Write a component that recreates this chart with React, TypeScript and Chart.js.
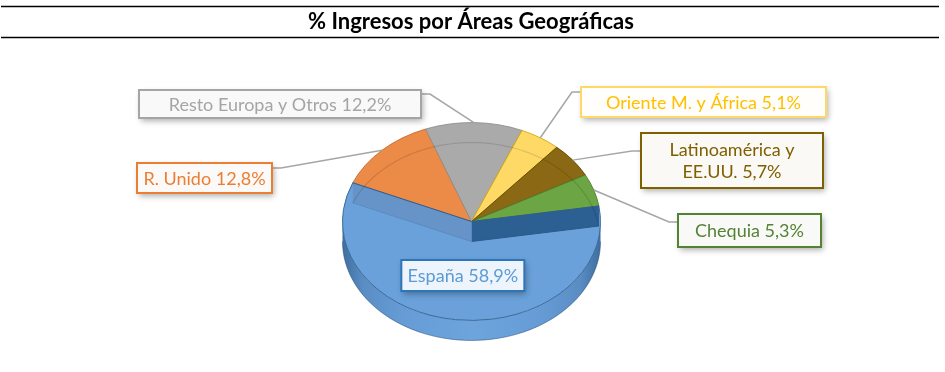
import { useEffect, useRef } from 'react';
import { Chart, registerables } from 'chart.js';
Chart.register(...registerables);

// ---------- data ----------
const titleText = '% Ingresos por Áreas Geográficas';
const categories = ['España', 'R. Unido', 'Resto Europa y Otros', 'Oriente M. y África', 'Latinoamérica y EE.UU.', 'Chequia'];
const values = [58.9, 12.8, 12.2, 5.1, 5.7, 5.3];

// ---------- styles ----------
const sliceColors = ['#6AA1DA', '#EC8A48', '#AAAAAA', '#FFD966', '#8B6914', '#6CA544'];
const sliceBorders = ['#2F5F8F', '#C96A2A', '#8E8E8E', '#D9A800', '#5E4600', '#4E7F2E'];
const labelTextColors = ['#5B9BD5', '#ED7D31', '#A5A5A5', '#FFC000', '#7F6000', '#548235'];
const labelBorderColors = ['#2E75B6', '#ED7D31', '#A5A5A5', '#FFD966', '#7F6000', '#548235'];
const labelFills = ['#EEF4FB', '#FBFAF9', '#F9F9F9', '#FFFEFA', '#FAF9F5', '#F9FAF8'];
// label boxes: [left, top, width, height, leaderAttachDy] ; null = inside slice
const labelBoxes: (number[] | null)[] = [
  null,
  [137, 163, 135, 30, 5],
  [139, 90, 282, 28, 4],
  [581, 87, 245, 30, 5],
  [641, 133, 182, 55, 18],
  [678, 214, 143, 33, 8],
];
const insideBox = [123, 31, 0.55];
const TILT = 0.767;
const DEPTH = 20;
const ROTATION = 81;
const FONT = 'Lato, "Open Sans", sans-serif';

function fmt(v: number) {
  return v.toFixed(1).replace('.', ',') + '%';
}

function frontSegments(a1: number, a2: number): number[][] {
  const out: number[][] = [];
  for (let k = -2; k <= 2; k++) {
    const lo = k * 2 * Math.PI, hi = lo + Math.PI;
    const s = Math.max(a1, lo), e = Math.min(a2, hi);
    if (e > s) out.push([s, e]);
  }
  return out;
}
function backSegments(a1: number, a2: number): number[][] {
  const out: number[][] = [];
  for (let k = -2; k <= 2; k++) {
    const lo = k * 2 * Math.PI + Math.PI, hi = lo + Math.PI;
    const s = Math.max(a1, lo), e = Math.min(a2, hi);
    if (e > s) out.push([s, e]);
  }
  return out;
}

function wrap(ctx: CanvasRenderingContext2D, text: string, maxW: number) {
  const words = text.split(' ');
  const lines: string[] = [];
  let cur = '';
  for (const w of words) {
    const t = cur ? cur + ' ' + w : w;
    if (ctx.measureText(t).width > maxW && cur) {
      lines.push(cur);
      cur = w;
    } else cur = t;
  }
  if (cur) lines.push(cur);
  return lines;
}

const pie3d = {
  id: 'pie3d',
  beforeDraw(chart: any) {
    const ctx = chart.ctx as CanvasRenderingContext2D;
    ctx.save();
    ctx.fillStyle = '#ffffff';
    ctx.fillRect(0, 0, chart.width, chart.height);
    ctx.strokeStyle = '#000000';
    ctx.lineWidth = 1.4;
    ctx.beginPath();
    ctx.moveTo(1, 6.5); ctx.lineTo(939, 6.5);
    ctx.moveTo(1, 37.5); ctx.lineTo(939, 37.5);
    ctx.stroke();
    ctx.fillStyle = '#000000';
    ctx.font = 'bold 22px ' + FONT;
    ctx.textAlign = 'center';
    ctx.textBaseline = 'alphabetic';
    ctx.fillText(titleText, 471, 29);
    ctx.restore();
  },
  beforeDatasetsDraw(chart: any) {
    const ctx = chart.ctx as CanvasRenderingContext2D;
    const arcs = chart.getDatasetMeta(0).data as any[];
    const cx = arcs[0].x, cy = arcs[0].y, R = arcs[0].outerRadius;
    const ex = (a: number) => cx + R * Math.cos(a);
    const ey = (a: number, off = 0) => cy + TILT * R * Math.sin(a) + off;

    // sides
    arcs.forEach((el: any, i: number) => {
      frontSegments(el.startAngle, el.endAngle).forEach(([s, e]) => {
        const n = 60;
        ctx.save();
        ctx.beginPath();
        for (let j = 0; j <= n; j++) {
          const a = s + ((e - s) * j) / n;
          j === 0 ? ctx.moveTo(ex(a), ey(a)) : ctx.lineTo(ex(a), ey(a));
        }
        for (let j = n; j >= 0; j--) {
          const a = s + ((e - s) * j) / n;
          ctx.lineTo(ex(a), ey(a, DEPTH));
        }
        ctx.closePath();
        const g = ctx.createLinearGradient(cx - R, 0, cx + R, 0);
        if (i === 0) {
          g.addColorStop(0, '#3F6E9E');
          g.addColorStop(0.08, '#5A8DC4');
          g.addColorStop(0.25, '#679DD6');
          g.addColorStop(0.5, '#6DA4DC');
          g.addColorStop(0.75, '#679DD6');
          g.addColorStop(0.92, '#5A8DC4');
          g.addColorStop(1, '#3F6E9E');
        } else {
          g.addColorStop(0, sliceBorders[i]);
          g.addColorStop(0.5, sliceColors[i]);
          g.addColorStop(1, sliceBorders[i]);
        }
        ctx.fillStyle = g;
        ctx.fill();
        ctx.beginPath();
        for (let j = 0; j <= n; j++) {
          const a = s + ((e - s) * j) / n;
          j === 0 ? ctx.moveTo(ex(a), ey(a, DEPTH)) : ctx.lineTo(ex(a), ey(a, DEPTH));
        }
        ctx.strokeStyle = 'rgba(40,80,120,0.55)';
        ctx.lineWidth = 1;
        ctx.stroke();
        ctx.restore();
      });
    });

    // top faces
    ctx.save();
    ctx.translate(cx, cy);
    ctx.scale(1, TILT);
    ctx.translate(-cx, -cy);
    arcs.forEach((el: any) => el.draw(ctx));
    ctx.restore();

    // see-through walls of the front slice
    const sp = arcs[0];
    const wall = (a: number, fill: string, line: string) => {
      ctx.save();
      ctx.beginPath();
      ctx.moveTo(cx, cy);
      ctx.lineTo(ex(a), ey(a));
      ctx.lineTo(ex(a), ey(a, DEPTH));
      ctx.lineTo(cx, cy + DEPTH);
      ctx.closePath();
      ctx.fillStyle = fill;
      ctx.fill();
      ctx.beginPath();
      ctx.moveTo(cx, cy + DEPTH);
      ctx.lineTo(ex(a), ey(a, DEPTH));
      ctx.strokeStyle = line;
      ctx.lineWidth = 1;
      ctx.stroke();
      ctx.beginPath();
      ctx.moveTo(cx, cy);
      ctx.lineTo(ex(a), ey(a));
      ctx.strokeStyle = '#2F5F8F';
      ctx.stroke();
      ctx.restore();
    };
    wall(sp.startAngle, '#2C5F92', '#2A5A88');
    wall(sp.endAngle, '#6794C8', '#5B8BC2');

    // faint see-through back bottom edge of the other slices
    arcs.forEach((el: any, i: number) => {
      if (i === 0) return;
      backSegments(el.startAngle, el.endAngle).forEach(([s, e]) => {
        ctx.save();
        ctx.beginPath();
        const n = 40;
        for (let j = 0; j <= n; j++) {
          const a = s + ((e - s) * j) / n;
          j === 0 ? ctx.moveTo(ex(a), ey(a, DEPTH)) : ctx.lineTo(ex(a), ey(a, DEPTH));
        }
        ctx.strokeStyle = 'rgba(0,0,0,0.12)';
        ctx.lineWidth = 1.2;
        ctx.stroke();
        ctx.restore();
      });
    });
    return false;
  },
  afterDraw(chart: any) {
    const ctx = chart.ctx as CanvasRenderingContext2D;
    const arcs = chart.getDatasetMeta(0).data as any[];
    const cx = arcs[0].x, cy = arcs[0].y, R = arcs[0].outerRadius;
    ctx.save();
    ctx.font = '18px ' + FONT;
    arcs.forEach((el: any, i: number) => {
      const mid = (el.startAngle + el.endAngle) / 2;
      const ax = cx + R * Math.cos(mid);
      const ay = cy + TILT * R * Math.sin(mid);
      let bx: number, by: number, bw: number, bh: number;
      const box = labelBoxes[i];
      if (!box) {
        bw = insideBox[0];
        bh = insideBox[1];
        const f = insideBox[2];
        bx = cx + f * R * Math.cos(mid) - bw / 2;
        by = cy + f * TILT * R * Math.sin(mid) - bh / 2;
      } else {
        [bx, by, bw, bh] = box;
        const attachY = by + box[4];
        const right = ax > bx + bw;
        const edgeX = right ? bx + bw : bx;
        const stubX = right ? edgeX + 9 : edgeX - 9;
        ctx.save();
        ctx.strokeStyle = '#A6A6A6';
        ctx.lineWidth = 1.5;
        ctx.beginPath();
        ctx.moveTo(edgeX, attachY);
        ctx.lineTo(stubX, attachY);
        ctx.lineTo(ax, ay);
        ctx.stroke();
        ctx.restore();
      }
      // box
      ctx.save();
      ctx.shadowColor = 'rgba(0,0,0,0.32)';
      ctx.shadowBlur = 6;
      ctx.shadowOffsetX = 2;
      ctx.shadowOffsetY = 3;
      ctx.fillStyle = labelFills[i];
      ctx.fillRect(bx, by, bw, bh);
      ctx.restore();
      ctx.save();
      ctx.strokeStyle = labelBorderColors[i];
      ctx.lineWidth = 2;
      ctx.strokeRect(bx, by, bw, bh);
      ctx.fillStyle = labelTextColors[i];
      ctx.textAlign = 'center';
      ctx.textBaseline = 'middle';
      const lines = wrap(ctx, categories[i] + ' ' + fmt(values[i]), bw - 2);
      const lh = 22;
      lines.forEach((ln, j) => {
        ctx.fillText(ln, bx + bw / 2, by + bh / 2 + (j - (lines.length - 1) / 2) * lh + 1);
      });
      ctx.restore();
    });
    ctx.restore();
  },
};

export default function App() {
  const ref = useRef<HTMLCanvasElement | null>(null);
  useEffect(() => {
    if (!ref.current) return;
    const chart = new Chart(ref.current, {
      type: 'pie',
      data: {
        labels: categories,
        datasets: [
          {
            data: values,
            backgroundColor: sliceColors,
            borderColor: sliceBorders,
            borderWidth: 1,
          },
        ],
      },
      options: {
        responsive: false,
        animation: false,
        rotation: ROTATION,
        layout: { padding: { left: 342, right: 344, top: 92, bottom: 21 } },
        plugins: {
          legend: { display: false },
          title: { display: false },
          tooltip: { enabled: false },
        },
        events: [],
      },
      plugins: [pie3d],
    });
    return () => chart.destroy();
  }, []);
  return (
    <div style={{ position: 'fixed', left: 0, top: 0, width: 945, height: 372, background: '#fff' }}>
      <canvas ref={ref} width={945} height={372} style={{ width: 945, height: 372, display: 'block' }} />
    </div>
  );
}
